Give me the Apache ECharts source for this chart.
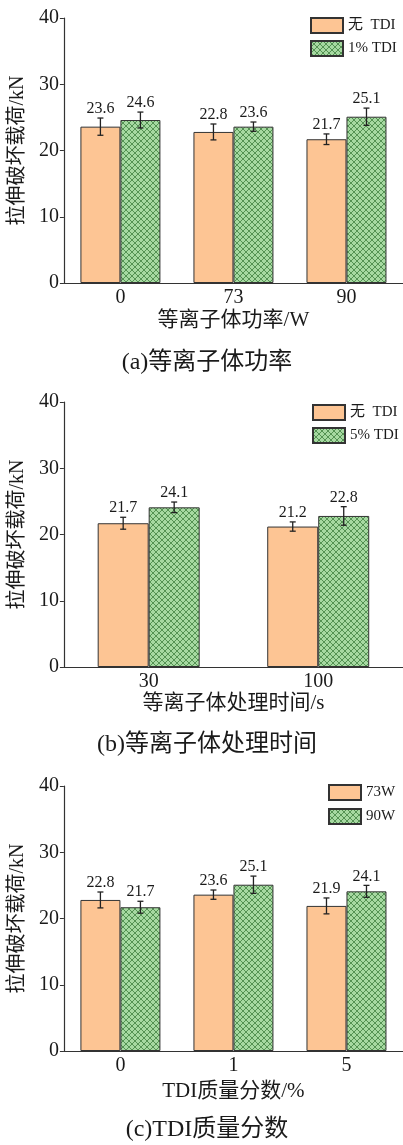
<!DOCTYPE html>
<html>
<head>
<meta charset="utf-8">
<script src="https://cdn.jsdelivr.net/npm/echarts@6/dist/echarts.min.js"></script>
<style>
  html, body { margin: 0; padding: 0; background: #fff; }
  #chart { width: 403px; height: 1145px; }
</style>
</head>
<body>
<div id="chart"></div>
<script>
// ---- data ----
// (a) plasma power
const catsA = ['0', '73', '90'];
const noTdiA = [23.6, 22.8, 21.7];
const noTdiErrA = [1.3, 1.2, 0.8];
const tdi1A = [24.6, 23.6, 25.1];
const tdi1ErrA = [1.2, 0.7, 1.3];

// (b) plasma treatment time
const catsB = ['30', '100'];
const noTdiB = [21.7, 21.2];
const noTdiErrB = [0.9, 0.7];
const tdi5B = [24.1, 22.8];
const tdi5ErrB = [0.8, 1.4];

// (c) TDI mass fraction
const catsC = ['0', '1', '5'];
const w73C = [22.8, 23.6, 21.9];
const w73ErrC = [1.2, 0.7, 1.2];
const w90C = [21.7, 25.1, 24.1];
const w90ErrC = [0.9, 1.3, 0.9];

const yTicks = [0, 10, 20, 30, 40];

// ---- styles ----
const FONT = "'Liberation Serif', 'Times New Roman', 'Noto Sans CJK SC', serif";
const ORANGE = '#fdc594';
const EDGE = '#333333';

// cross-hatched green fill
function hatch() {
  const s = 6;
  const c = document.createElement('canvas');
  c.width = s; c.height = s;
  const g = c.getContext('2d');
  g.fillStyle = '#a6d9a1';
  g.fillRect(0, 0, s, s);
  g.strokeStyle = '#4b8a4b';
  g.lineWidth = 0.9;
  g.beginPath();
  g.moveTo(0, 0); g.lineTo(s, s);
  g.moveTo(s, 0); g.lineTo(0, s);
  g.stroke();
  return { image: c, repeat: 'repeat' };
}
const GREEN = hatch();

const chart = echarts.init(document.getElementById('chart'), null, { renderer: 'canvas' });

const panels = [
  { cats: catsA, top: 18, bw: 40, name: '等离子体功率/W', nameGap: 27,
    s: [{ n: '无  TDI', v: noTdiA, e: noTdiErrA }, { n: '1% TDI', v: tdi1A, e: tdi1ErrA }],
    legend: { left: 310, top: 17, gap: 6 } },
  { cats: catsB, top: 402, bw: 51, name: '等离子体处理时间/s', nameGap: 24,
    s: [{ n: '无  TDI', v: noTdiB, e: noTdiErrB }, { n: '5% TDI', v: tdi5B, e: tdi5ErrB }],
    legend: { left: 312, top: 404, gap: 6 } },
  { cats: catsC, top: 786, bw: 40, name: 'TDI质量分数/%', nameGap: 30,
    s: [{ n: '73W', v: w73C, e: w73ErrC }, { n: '90W', v: w90C, e: w90ErrC }],
    legend: { left: 328, top: 784, gap: 7 } }
];

const grid = [], xAxis = [], yAxis = [], series = [], legend = [];

panels.forEach((p, gi) => {
  grid.push({ left: 62, top: p.top, width: 342, height: 265, containLabel: false });
  xAxis.push({
    type: 'category', gridIndex: gi, data: p.cats,
    axisLine: { lineStyle: { color: EDGE, width: 1.2 } },
    axisTick: { show: false },
    axisLabel: { color: '#1a1a1a', fontFamily: FONT, fontSize: 20, margin: 5 },
    name: p.name, nameLocation: 'middle', nameGap: p.nameGap,
    nameTextStyle: { color: '#1a1a1a', fontFamily: FONT, fontSize: 21 }
  });
  yAxis.push({
    type: 'value', gridIndex: gi, min: yTicks[0], max: yTicks[yTicks.length - 1], interval: 10,
    axisLine: { show: true, lineStyle: { color: EDGE, width: 1.2 } },
    axisTick: { show: true, inside: false, length: 4, lineStyle: { color: EDGE } },
    axisLabel: { color: '#1a1a1a', fontFamily: FONT, fontSize: 20, margin: 5 },
    splitLine: { show: false },
    name: '拉伸破坏载荷/kN', nameLocation: 'middle', nameGap: 31,
    nameTextStyle: { color: '#1a1a1a', fontFamily: FONT, fontSize: 20 }
  });

  p.s.forEach((s, si) => {
    series.push({
      type: 'bar', name: s.n, xAxisIndex: gi, yAxisIndex: gi,
      data: s.v, barWidth: p.bw, barGap: '0%',
      itemStyle: { color: si === 0 ? ORANGE : GREEN, borderColor: EDGE, borderWidth: 1 },
      emphasis: { disabled: true }
    });
  });

  // error bars with value labels
  p.s.forEach((s, si) => {
    const shift = (si === 0 ? -0.5 : 0.5) * p.bw;
    series.push({
      type: 'custom', xAxisIndex: gi, yAxisIndex: gi, silent: true, z: 5,
      data: s.v.map((v, i) => [i, v, s.e[i]]),
      renderItem: (params, api) => {
        const i = api.value(0), v = api.value(1), e = api.value(2);
        const hi = api.coord([i, v + e]);
        const lo = api.coord([i, v - e]);
        const x = hi[0] + shift;
        const cap = 3;
        const ls = { stroke: '#222', lineWidth: 1.3 };
        return {
          type: 'group',
          children: [
            { type: 'line', shape: { x1: x, y1: hi[1], x2: x, y2: lo[1] }, style: ls },
            { type: 'line', shape: { x1: x - cap, y1: hi[1], x2: x + cap, y2: hi[1] }, style: ls },
            { type: 'line', shape: { x1: x - cap, y1: lo[1], x2: x + cap, y2: lo[1] }, style: ls },
            { type: 'text', x: x, y: hi[1] - 1,
              style: { text: v.toFixed(1), fill: '#1a1a1a', font: '16px ' + FONT,
                       align: 'center', verticalAlign: 'bottom' } }
          ]
        };
      }
    });
  });

  legend.push({
    orient: 'vertical', left: p.legend.left, top: p.legend.top, padding: 0,
    itemWidth: 32, itemHeight: 15, itemGap: p.legend.gap,
    icon: 'rect', selectedMode: false,
    data: p.s.map(s => s.n),
    textStyle: { color: '#1a1a1a', fontFamily: FONT, fontSize: 15, padding: [0, 0, 0, 0] }
  });
});

const captions = [
  { t: '(a)等离子体功率', y: 363 },
  { t: '(b)等离子体处理时间', y: 745 },
  { t: '(c)TDI质量分数', y: 1130 }
];

chart.setOption({
  animation: false,
  backgroundColor: '#fff',
  grid, xAxis, yAxis, series, legend,
  graphic: captions.map(c => ({
    type: 'text', x: 207, y: c.y,
    style: { text: c.t, fill: '#1a1a1a', font: '24px ' + FONT, align: 'center', verticalAlign: 'middle' }
  }))
});
</script>
</body>
</html>
